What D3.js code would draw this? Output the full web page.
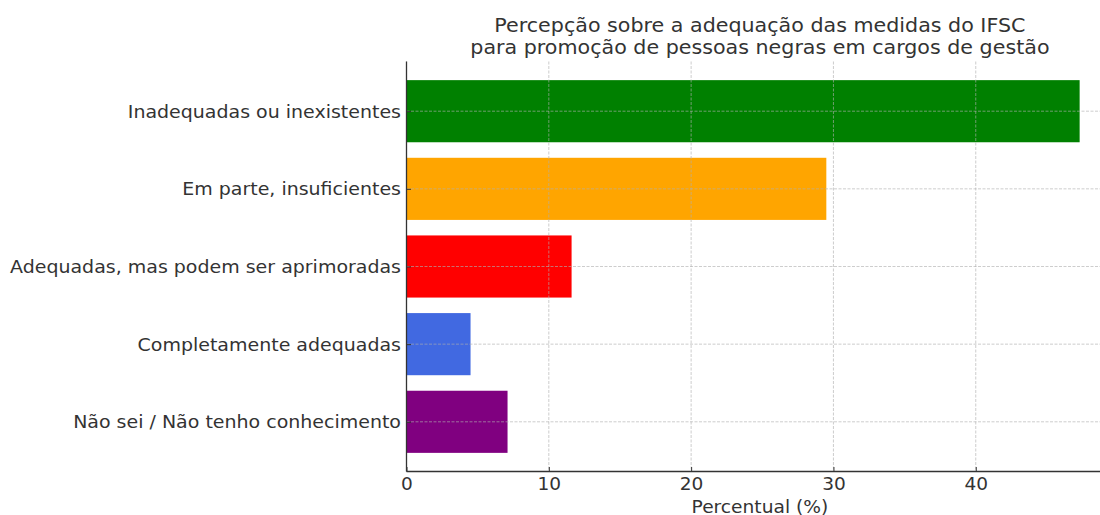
<!DOCTYPE html>
<html><head><meta charset="utf-8">
<script src="https://cdn.jsdelivr.net/npm/d3@7"></script>
<style>body{margin:0;background:#fff}svg{display:block}text{font-family:"DejaVu Sans",sans-serif;fill:#333}</style>
</head><body><svg id="c" width="1100" height="515"></svg>
<script>
const categories = ["Inadequadas ou inexistentes","Em parte, insuficientes","Adequadas, mas podem ser aprimoradas","Completamente adequadas","Não sei / Não tenho conhecimento"];
const values = [47.3, 29.5, 11.6, 4.5, 7.1];
const colors = ["green","orange","red","royalblue","purple"];
const xTicks = [0,10,20,30,40];
const titleLines = ["Percepção sobre a adequação das medidas do IFSC","para promoção de pessoas negras em cargos de gestão"];
const xLabel = "Percentual (%)";

const svg = d3.select("#c");
const pLeft = 406.5, pRight = 1113.3, pTop = 61.5, pBottom = 471.5;
const x = d3.scaleLinear().domain([0, d3.max(values)*1.05]).range([pLeft, pRight]);
const y = d3.scaleLinear().domain([-0.64, 4.64]).range([pTop, pBottom]);
const barH = y(0.4) - y(-0.4);

// horizontally stretched text helper (reference glyphs are wider than tall)
function stretch(sel, sx) {
  sel.each(function(){
    const t = d3.select(this);
    const x0 = +t.attr("x") || 0;
    t.attr("x", x0/sx).attr("transform", `scale(${sx},1)`);
  });
}

svg.append("g").selectAll("rect.bar").data(values).join("rect")
  .attr("class","bar")
  .attr("x", x(0))
  .attr("y", (d,i)=>y(i)-barH/2)
  .attr("width", d=>x(d)-x(0))
  .attr("height", barH)
  .attr("fill", (d,i)=>colors[i]);

const grid = svg.append("g").attr("stroke","#b0b0b0").attr("stroke-opacity",0.7).attr("stroke-width",0.9).attr("stroke-dasharray","3,1.5");
grid.selectAll("line.gx").data(xTicks).join("line").attr("class","gx")
  .attr("x1",d=>x(d)).attr("x2",d=>x(d)).attr("y1",pTop).attr("y2",pBottom);
grid.selectAll("line.gy").data(categories).join("line").attr("class","gy")
  .attr("x1",pLeft).attr("x2",pRight).attr("y1",(d,i)=>y(i)).attr("y2",(d,i)=>y(i));

const xAxis = d3.axisBottom(x).tickValues(xTicks).tickSize(-4.5).tickPadding(6.5).tickFormat(d3.format("d"));
const ax = svg.append("g").attr("transform",`translate(0,${pBottom})`).call(xAxis);
ax.select(".domain").remove();
ax.selectAll(".tick line").attr("stroke","#333").attr("stroke-width",1);
ax.selectAll(".tick text").attr("font-size","17.5px").attr("fill","#333").style("font-family","DejaVu Sans");
stretch(ax.selectAll(".tick text"), 1.06);

const yAxis = d3.axisLeft(y).tickValues(d3.range(categories.length)).tickFormat(i=>categories[i]).tickSize(-4.5).tickPadding(5.5);
const ay = svg.append("g").attr("transform",`translate(${pLeft},0)`).call(yAxis);
ay.select(".domain").remove();
ay.selectAll(".tick line").attr("stroke","#333").attr("stroke-width",1);
ay.selectAll(".tick text").attr("font-size","17px").attr("dy","0.36em").attr("fill","#333").style("font-family","DejaVu Sans");
stretch(ay.selectAll(".tick text"), 1.117);

svg.append("line").attr("x1",pLeft).attr("x2",pLeft).attr("y1",pTop).attr("y2",pBottom).attr("stroke","#333").attr("stroke-width",1.3);
svg.append("line").attr("x1",pLeft).attr("x2",pRight).attr("y1",pBottom).attr("y2",pBottom).attr("stroke","#333").attr("stroke-width",1.3);

const cx = (pLeft+pRight)/2;
const tg = svg.selectAll("g.title").data(titleLines).join("g").attr("class","title")
  .attr("transform",(d,i)=>`translate(${cx},${31.5+i*22.5})`);
tg.append("text").attr("text-anchor","middle").attr("font-size","19px").text(d=>d);
stretch(tg.selectAll("text"), 1.086);

const xl = svg.append("g").attr("transform",`translate(${cx},512.5)`);
xl.append("text").attr("text-anchor","middle").attr("font-size","17.5px").text(xLabel);
stretch(xl.selectAll("text"), 1.065);
</script></body></html>
